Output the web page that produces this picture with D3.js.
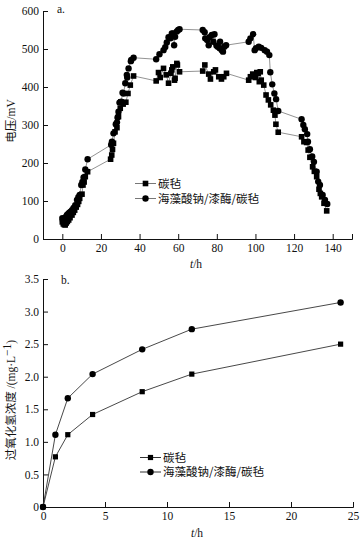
<!DOCTYPE html>
<html><head><meta charset="utf-8">
<script src="https://cdn.jsdelivr.net/npm/d3@7"></script>
<style>
body{margin:0;background:#fff;}
svg{display:block;}
.num{font-family:"Liberation Serif","Times New Roman",serif !important;font-size:11.5px;}
.cjk{font-family:"Noto Sans CJK SC",sans-serif !important;}
</style></head><body>
<svg id="c" width="364" height="541"></svg>
<script>
// ---------- Chart a data ----------
const seriesNames = ["碳毡", "海藻酸钠/漆酶/碳毡"];
const aSquareT = [0,0.5,1,1.5,2,2.6,3.3,4,5,5.7,6.4,7.2,7.9,8.5,9,10.2,10.7,11.3,11.9,13.1,
 25,25.6,26,26.5,27.3,28.3,29.1,30,30.3,31.5,32.9,34,35.2,36.9,
 48.6,49.8,50.7,52.4,53.8,55,56.2,56.7,57.2,58.1,58.4,59.3,59.6,60.7,
 72.7,73.8,75.8,76.7,78.4,79.3,81,82.4,83.6,85,
 96.5,97.4,98.6,100,100.7,101.4,102,102.5,103,104.3,105.5,106.7,107.9,109.3,110.1,110.6,111.8,
 123.9,125.1,126.5,127.3,128.2,129.6,130.5,131.7,132.9,133.6,134.3,135.5,136.9];
const aSquareV = [45,40,38,37,42,46,50,56,63,70,76,84,91,99,107,118,142,150,164,177,
 210,221,236,252,282,293,322,344,361,355,360,383,405,429,
 416,438,425,449,432,410,436,445,453,418,423,462,458,440,
 442,458,434,421,440,445,427,421,427,436,
 418,427,434,425,438,436,414,440,418,405,379,366,353,339,326,302,281,
 269,256,254,234,215,190,178,164,131,120,111,94,74];
const aCircleT = [0,0.3,0.7,1.2,1.8,2.4,3,3.6,4.3,5,5.8,6.7,7.6,8.3,9,9.8,10.4,11,11.9,13.1,
 25.3,25.7,26.5,27.7,28.3,28.6,29.1,29.6,30.5,31.2,31.7,32.6,33.4,33.6,34.3,35.5,35.7,36.9,
 48.6,50.3,52.4,53.3,54.1,55,56,56.7,57.5,57.9,58.4,59.3,60,60.7,
 72.7,73.7,74,75,75.8,76.2,77.4,78.2,78.8,79.8,80.5,81.5,81.7,82.6,83.2,83.9,84.8,
 96.5,97.4,98.8,99.6,100.3,101.7,103,104.8,106,107.2,
 107.7,108.7,109.8,110.7,111.8,
 123.9,124.8,125.6,126.8,127.2,128.2,129.4,130.3,131.7,132.5,133.4,134.8,136,137.2];
const aCircleV = [55,48,50,53,58,63,66,69,72,76,82,89,103,110,116,142,150,162,183,210,
 248,256,278,302,307,320,335,359,361,385,383,410,432,425,449,468,471,477,
 473,486,497,505,517,531,528,541,541,510,532,546,550,552,
 550,544,528,524,510,531,537,519,539,509,506,502,519,497,493,506,510,
 519,528,539,497,502,506,503,497,493,484,
 439,407,383,368,337,
 315,300,289,276,256,236,217,203,177,151,142,116,103,92];
const aXTicks = [0,20,40,60,80,100,120,140];
const aYTicks = [0,100,200,300,400,500,600];

// ---------- Chart b data ----------
const bT = [0,1,2,4,8,12,24];
const bSquareV = [0,0.77,1.11,1.42,1.77,2.04,2.50];
const bCircleV = [0,1.11,1.67,2.04,2.42,2.73,3.14];
const bXTicks = [0,5,10,15,20,25];
const bYTicks = [0,0.5,1.0,1.5,2.0,2.5,3.0,3.5];

const SERIF = '"Liberation Serif","Times New Roman",serif';
const svg = d3.select("#c");

function drawAxes(g, x, y, xt, yt, yfmt, xfmt){
  const xa = d3.axisBottom(x).tickValues(xt).tickFormat(xfmt).tickSizeInner(-5).tickSizeOuter(-5).tickPadding(5);
  const ya = d3.axisLeft(y).tickValues(yt).tickFormat(yfmt).tickSizeInner(-5).tickSizeOuter(0).tickPadding(4);
  const gx = g.append("g").attr("transform",`translate(0,${y.range()[0]})`).call(xa);
  const gy = g.append("g").attr("transform",`translate(${x.range()[0]},0)`).call(ya);
  [gx,gy].forEach(a=>{
    a.attr("font-family",SERIF).attr("font-size",11.5);
    a.selectAll("text").attr("class","num").attr("font-family",SERIF).attr("fill","#111");
    a.selectAll("line,path").attr("stroke","#111").attr("stroke-width",1);
  });
}

function squareMark(g, pts, size, fill){
  g.selectAll(null).data(pts).join("rect")
   .attr("x",d=>d[0]-size/2).attr("y",d=>d[1]-size/2)
   .attr("width",size).attr("height",size).attr("fill",fill);
}
function circleMark(g, pts, r, fill){
  g.selectAll(null).data(pts).join("circle")
   .attr("cx",d=>d[0]).attr("cy",d=>d[1]).attr("r",r).attr("fill",fill);
}

function legend(g, x0, y0, gap, lineStroke, sq, cr){
  const rows = [{name:seriesNames[0],type:"s"},{name:seriesNames[1],type:"c"}];
  rows.forEach((r,i)=>{
    const yy = y0 + i*gap;
    g.append("line").attr("x1",x0).attr("x2",x0+21).attr("y1",yy).attr("y2",yy)
      .attr("stroke",lineStroke).attr("stroke-width",1);
    if(r.type==="s") squareMark(g,[[x0+10.5,yy]],sq,"#000");
    else circleMark(g,[[x0+10.5,yy]],cr,"#000");
    g.append("text").attr("class","cjk").attr("x",x0+23).attr("y",yy+4.3)
      .attr("font-size","11.5px").attr("fill","#111").text(r.name);
  });
}

// ---------- Chart a ----------
{
  const g = svg.append("g");
  const x = d3.scaleLinear().domain([-10,150]).range([43,352]);
  const y = d3.scaleLinear().domain([0,600]).range([239,11]);
  drawAxes(g,x,y,aXTicks,aYTicks,d3.format("d"),d3.format("d"));
  const line = d3.line().x(d=>x(d[0])).y(d=>y(d[1]));
  const sq = aSquareT.map((t,i)=>[t,aSquareV[i]]);
  const ci = aCircleT.map((t,i)=>[t,aCircleV[i]]);
  g.append("path").attr("d",line(sq)).attr("fill","none").attr("stroke","#777").attr("stroke-width",0.8);
  g.append("path").attr("d",line(ci)).attr("fill","none").attr("stroke","#777").attr("stroke-width",0.8);
  squareMark(g, sq.map(d=>[x(d[0]),y(d[1])]), 5.6, "#000");
  circleMark(g, ci.map(d=>[x(d[0]),y(d[1])]), 3.2, "#000");
  g.append("text").attr("class","num").attr("x",57).attr("y",13).attr("fill","#111").text("a.");
  const yl = g.append("text").attr("transform","translate(15,121) rotate(-90)")
    .attr("text-anchor","middle").attr("fill","#111");
  yl.append("tspan").attr("class","cjk").attr("font-size","11.5px").text("电压");
  yl.append("tspan").attr("class","num").text("/mV");
  const xl = g.append("text").attr("x",196).attr("y",268).attr("text-anchor","middle").attr("class","num").attr("fill","#111");
  xl.append("tspan").attr("font-style","italic").text("t");
  xl.append("tspan").text("/h");
  legend(g,135,183.5,15,"#777",5.6,3.2);
}

// ---------- Chart b ----------
{
  const g = svg.append("g");
  const x = d3.scaleLinear().domain([0,25]).range([43,353]);
  const y = d3.scaleLinear().domain([0,3.5]).range([507,279]);
  drawAxes(g,x,y,bXTicks,bYTicks,d=>d===0?"0":d3.format(".1f")(d),d3.format("d"));
  const line = d3.line().x(d=>x(d[0])).y(d=>y(d[1]));
  const sq = bT.map((t,i)=>[t,bSquareV[i]]);
  const ci = bT.map((t,i)=>[t,bCircleV[i]]);
  g.append("path").attr("d",line(sq)).attr("fill","none").attr("stroke","#333").attr("stroke-width",0.9);
  g.append("path").attr("d",line(ci)).attr("fill","none").attr("stroke","#333").attr("stroke-width",0.9);
  squareMark(g, sq.map(d=>[x(d[0]),y(d[1])]), 5.2, "#000");
  circleMark(g, ci.map(d=>[x(d[0]),y(d[1])]), 3.2, "#000");
  g.append("text").attr("class","num").attr("x",61).attr("y",284).attr("fill","#111").text("b.");
  const yl = g.append("text").attr("transform","translate(15,400) rotate(-90)")
    .attr("text-anchor","middle").attr("fill","#111");
  yl.append("tspan").attr("class","cjk").attr("font-size","11.5px").text("过氧化氢浓度 ");
  yl.append("tspan").attr("class","num").text("/(mg·L");
  yl.append("tspan").attr("class","num").attr("font-size","8px").attr("dy","-4").text("−1");
  yl.append("tspan").attr("class","num").attr("dy","4").text(")");
  const xl = g.append("text").attr("x",197).attr("y",537).attr("text-anchor","middle").attr("class","num").attr("fill","#111");
  xl.append("tspan").attr("font-style","italic").text("t");
  xl.append("tspan").text("/h");
  legend(g,140,457.5,14.5,"#333",5.2,3.2);
}
</script>
</body></html>
